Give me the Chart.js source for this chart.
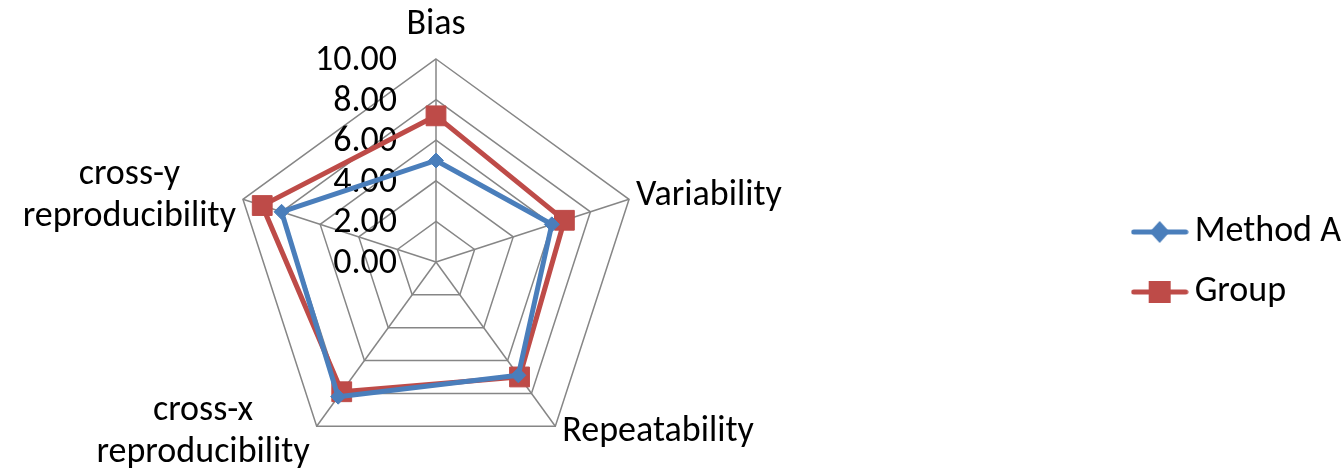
<!DOCTYPE html>
<html>
<head>
<meta charset="utf-8">
<script src="https://cdn.jsdelivr.net/npm/chart.js@4.4.1/dist/chart.umd.min.js"></script>
<style>
  html, body { margin: 0; padding: 0; background: #fff; }
  #wrap { width: 1341px; height: 474px; position: relative; }
</style>
</head>
<body>
<div id="wrap"><canvas id="radar"></canvas></div>
<script>
// axis categories
const categories = ['Bias', 'Variability', 'Repeatability', ['cross-x', 'reproducibility'], ['cross-y', 'reproducibility']];
// series values
const methodA = [5.0, 6.0, 6.9, 8.2, 8.0];
const group = [7.2, 6.65, 7.0, 7.9, 9.0];
const seriesNames = ['Method A', 'Group'];
// radial axis ticks
const tickMin = 0;
const tickMax = 10;
const tickStep = 2;

const FONT = "Carlito, Lato, 'Open Sans', sans-serif";
const FSIZE = 36;
const BLUE = '#4a7ebb';
const RED = '#be4b48';

// little line+marker picture for the legend, like the office-style legend
function legendSymbol(color, shape) {
  const c = document.createElement('canvas');
  c.width = 58; c.height = 24;
  const g = c.getContext('2d');
  g.strokeStyle = color;
  g.lineWidth = 5;
  g.lineCap = 'round';
  g.beginPath(); g.moveTo(3, 12); g.lineTo(55, 12); g.stroke();
  g.fillStyle = color;
  g.beginPath();
  if (shape === 'diamond') {
    g.moveTo(29, 1); g.lineTo(39, 12); g.lineTo(29, 23); g.lineTo(19, 12);
  } else {
    g.rect(18, 1, 22, 22);
  }
  g.closePath(); g.fill();
  return c;
}
const legendIcons = [legendSymbol(BLUE, 'diamond'), legendSymbol(RED, 'square')];

// tick labels left of the vertical axis + category labels placed office-style
const radarText = {
  id: 'radarText',
  beforeDatasetsDraw(chart) {
    const s = chart.scales.r;
    const ctx = chart.ctx;
    ctx.save();
    ctx.font = FSIZE + 'px ' + FONT;
    ctx.fillStyle = '#000';

    ctx.textAlign = 'right';
    ctx.textBaseline = 'middle';
    s.ticks.forEach(t => {
      const d = s.getDistanceFromCenterForValue(t.value);
      ctx.fillText(t.value.toFixed(2), s.xCenter - 39, s.yCenter - d + 2);
    });

    const lineH = 42;
    ctx.textAlign = 'center';
    s._pointLabels.forEach((lbl, i) => {
      const lines = Array.isArray(lbl) ? lbl : [lbl];
      const p = s.getPointPosition(i, s.drawingArea);
      const blockW = Math.max(...lines.map(l => ctx.measureText(l).width));
      let cx, cy;
      if (Math.abs(p.x - s.xCenter) < 1) {
        cx = p.x;
        cy = p.y - 34 - (lines.length - 1) * lineH / 2;
      } else {
        cx = p.x > s.xCenter ? p.x + 7 + blockW / 2 : p.x - 7 - blockW / 2;
        cy = p.y < s.yCenter ? p.y - 3 : p.y + 6;
      }
      lines.forEach((l, k) => {
        ctx.fillText(l, cx, cy + (k - (lines.length - 1) / 2) * lineH);
      });
    });
    ctx.restore();
  }
};

new Chart(document.getElementById('radar'), {
  type: 'radar',
  data: {
    labels: categories,
    datasets: [{
      label: seriesNames[0],
      data: methodA,
      borderColor: BLUE,
      backgroundColor: BLUE,
      borderWidth: 5,
      fill: false,
      pointStyle: 'rectRot',
      pointRadius: 7.5,
      pointBorderWidth: 1,
      pointBackgroundColor: BLUE,
      pointBorderColor: BLUE
    }, {
      label: seriesNames[1],
      data: group,
      borderColor: RED,
      backgroundColor: RED,
      borderWidth: 5,
      fill: false,
      pointStyle: 'rect',
      pointRadius: 14,
      pointBorderWidth: 1,
      pointBackgroundColor: RED,
      pointBorderColor: RED
    }]
  },
  options: {
    responsive: true,
    maintainAspectRatio: false,
    animation: false,
    layout: { padding: { left: 0, right: -10, top: 59, bottom: 9 } },
    scales: {
      r: {
        min: tickMin,
        max: tickMax,
        ticks: { stepSize: tickStep, display: false },
        grid: { color: '#868686', lineWidth: 1.5 },
        angleLines: { color: '#868686', lineWidth: 1.5 },
        pointLabels: { display: false },
        // the plot sits left of the middle of the free space, as in the original
        afterFit(scale) { scale.xCenter -= 123; }
      }
    },
    plugins: {
      tooltip: { enabled: false },
      legend: {
        position: 'right',
        labels: {
          color: '#000',
          font: { family: FONT, size: FSIZE },
          usePointStyle: true,
          pointStyleWidth: 34,
          padding: 24,
          generateLabels(chart) {
            const items = Chart.defaults.plugins.legend.labels.generateLabels(chart);
            items.forEach((it, i) => { it.pointStyle = legendIcons[i]; });
            return items;
          }
        }
      }
    }
  },
  plugins: [radarText]
});
</script>
</body>
</html>
